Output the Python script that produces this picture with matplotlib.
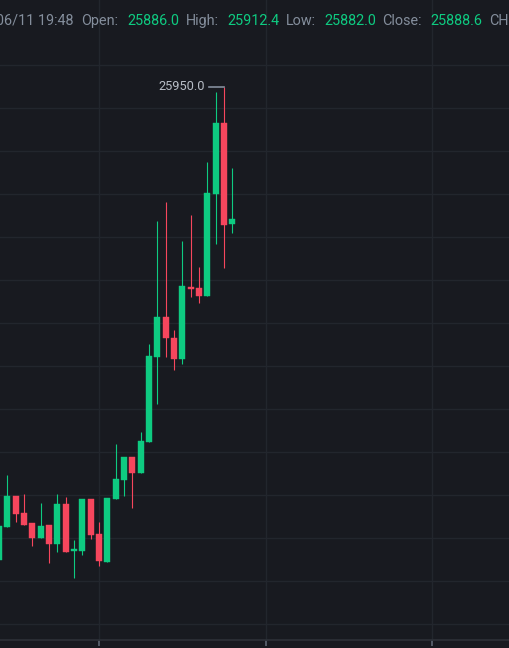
import numpy as np
import matplotlib.pyplot as plt

# Velas de 1 minuto, la ultima es la del encabezado
opens  = [25729.9, 25745.1, 25759.8, 25751.8, 25747.0, 25740.0, 25746.0, 25737.2,
          25755.8, 25733.9, 25734.1, 25758.3, 25741.9, 25729.1, 25758.1, 25767.1,
          25778.0, 25770.2, 25784.9, 25824.2, 25842.9, 25833.3, 25823.3, 25857.0,
          25856.6, 25852.7, 25900.1, 25933.3, 25886.0]
highs  = [25745.7, 25769.4, 25759.8, 25760.6, 25747.0, 25756.4, 25746.0, 25760.6,
          25759.3, 25739.2, 25758.3, 25758.3, 25747.4, 25758.7, 25783.9, 25777.8,
          25778.0, 25789.4, 25830.4, 25887.7, 25896.3, 25836.9, 25878.1, 25890.2,
          25866.0, 25915.2, 25947.7, 25950.0, 25912.4]
lows   = [25729.9, 25745.1, 25747.4, 25746.0, 25736.6, 25740.0, 25728.7, 25733.5,
          25733.8, 25721.4, 25732.2, 25739.7, 25727.3, 25729.1, 25758.1, 25759.7,
          25754.2, 25770.2, 25784.9, 25802.3, 25824.2, 25818.3, 25821.1, 25852.1,
          25849.3, 25852.7, 25876.9, 25865.6, 25882.0]
closes = [25745.7, 25759.8, 25751.2, 25746.0, 25740.3, 25745.7, 25737.2, 25755.8,
          25733.8, 25734.8, 25758.3, 25741.4, 25729.3, 25758.7, 25767.6, 25777.8,
          25770.2, 25785.3, 25824.8, 25842.9, 25833.0, 25823.3, 25857.2, 25856.1,
          25852.7, 25900.7, 25933.3, 25885.7, 25888.6]
idx = np.arange(-1, len(opens) - 1)

max_price = 25950.0
header = ["06/11 19:48", "Open:", "25886.0", "High:", "25912.4", "Low:", "25882.0",
          "Close:", "25888.6", "CH"]

bg = "#181a20"
up = "#0ecb81"
down = "#f6465d"
grid = "#22262d"

W, H = 509, 648
fig = plt.figure(figsize=(W / 100, H / 100), dpi=100, facecolor=bg)
ax = fig.add_axes([0, 8 / H, 1, 640 / H])
ax.set_facecolor(bg)

o = np.array(opens); c = np.array(closes)
col = [up if cc >= oo else down for oo, cc in zip(o, c)]
ax.vlines(idx, lows, highs, colors=col, lw=0.8, zorder=3)
ax.bar(idx, np.maximum(np.abs(c - o), 0.6), bottom=np.minimum(o, c), width=0.72,
       color=col, edgecolor=col, lw=0.3, zorder=4)

ax.set_xlim(-0.876, 60.2)
ax.set_ylim(25692.7, 25990.4)

ax.set_yticks(np.arange(25700, 25961, 20))
ax.set_xticks([11, 31, 51])
ax.grid(True, color=grid, lw=1.0)
ax.tick_params(axis="y", left=False, labelleft=False)
ax.tick_params(axis="x", length=4.5, width=1.2, color="#5e6673", labelbottom=False)
for s in ["top", "left", "right"]:
    ax.spines[s].set_visible(False)
ax.spines["bottom"].set_color("#2b2f36")
ax.spines["bottom"].set_linewidth(1.3)

# etiqueta del maximo
ax.plot([24.24, 26.0], [max_price, max_price], color="#848e9c", lw=1.2, zorder=5)
ax.text(23.75, max_price, f"{max_price:.1f}", color="#b7bdc6", fontsize=9.2,
        ha="right", va="center", family="Roboto")

# encabezado
xs = [73.3, 81, 127.7, 185.7, 227.7, 286, 324.3, 382.3, 430.7, 488.7]
for i, (t, xp) in enumerate(zip(header, xs)):
    color = up if i in (2, 4, 6, 8) else "#848e9c"
    fig.text(xp / W, 1 - 20.7 / H, t, color=color, fontsize=10.4, family="Roboto",
             ha="right" if i == 0 else "left", va="center")

plt.savefig("out.png", dpi=100, facecolor=bg)
